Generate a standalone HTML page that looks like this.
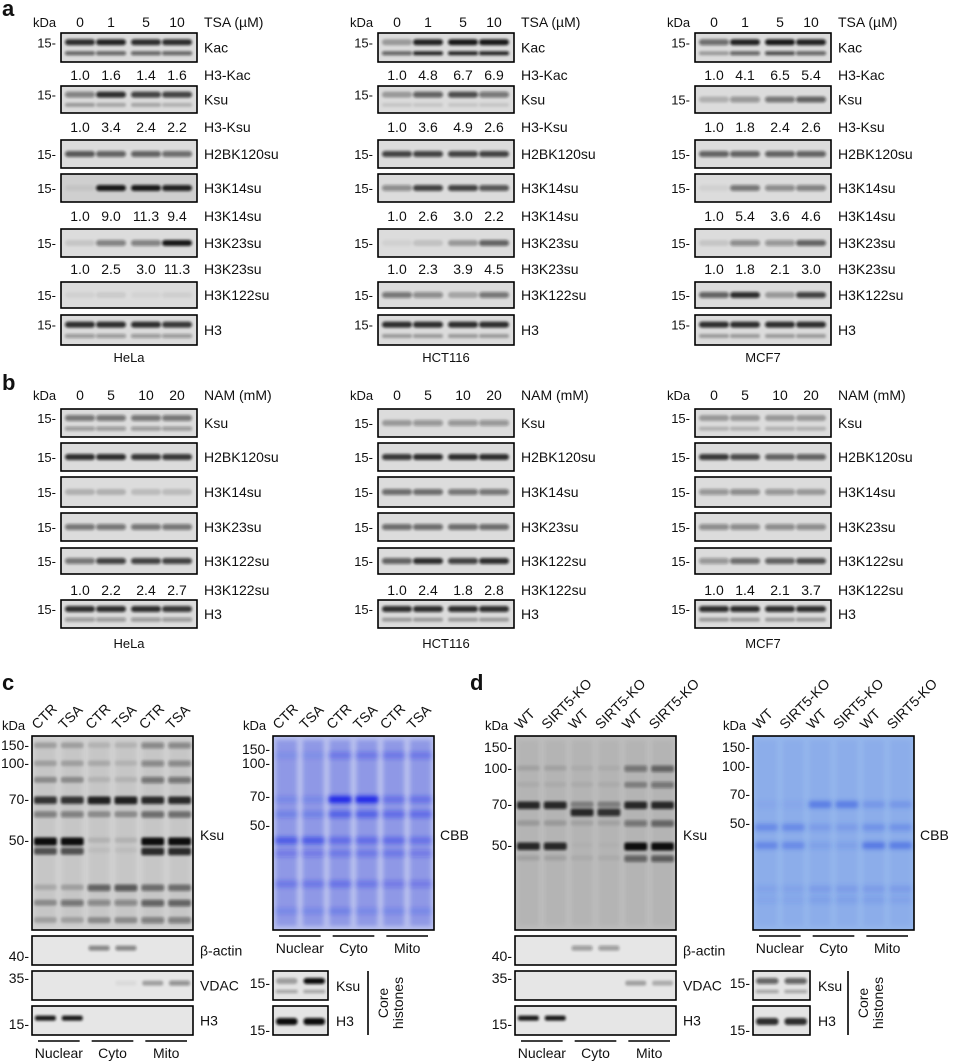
<!DOCTYPE html>
<html><head><meta charset="utf-8">
<style>
html,body{margin:0;padding:0;background:#fff;}
svg{display:block;font-family:"Liberation Sans",Arial,sans-serif;}
text{fill:#111;}
</style></head>
<body>
<svg id="fig" width="953" height="1064" viewBox="0 0 953 1064" xmlns="http://www.w3.org/2000/svg">
<defs>
<filter id="bl" x="-20%" y="-100%" width="140%" height="300%"><feGaussianBlur stdDeviation="1.3"/></filter>
<filter id="bl2" x="-20%" y="-100%" width="140%" height="300%"><feGaussianBlur stdDeviation="2.2"/></filter>
</defs>
</svg>
<script>
// ---------- data ----------
const aLabels=['Kac','Ksu','H2BK120su','H3K14su','H3K23su','H3K122su','H3'];
const bLabels=['Ksu','H2BK120su','H3K14su','H3K23su','H3K122su','H3'];
const cellLines=['HeLa','HCT116','MCF7'];
const aDoses=['0','1','5','10'];
const bDoses=['0','5','10','20'];
const aQuantLabels=['H3-Kac','H3-Ksu','H3K14su','H3K23su'];
const aQuantHeLa=[[1.0,1.6,1.4,1.6],[1.0,3.4,2.4,2.2],[1.0,9.0,11.3,9.4],[1.0,2.5,3.0,11.3]];
const aQuantHCT=[[1.0,4.8,6.7,6.9],[1.0,3.6,4.9,2.6],[1.0,2.6,3.0,2.2],[1.0,2.3,3.9,4.5]];
const aQuantMCF=[[1.0,4.1,6.5,5.4],[1.0,1.8,2.4,2.6],[1.0,5.4,3.6,4.6],[1.0,1.8,2.1,3.0]];
const bQuantHeLa=[1.0,2.2,2.4,2.7];
const bQuantHCT=[1.0,2.4,1.8,2.8];
const bQuantMCF=[1.0,1.4,2.1,3.7];
const aBandsHeLa=[[[.85,.9,.85,.85],[.6,.6,.6,.6]],[[.45,.85,.75,.75],[.3,.25,.25,.2]],[[.65,.6,.6,.55],null],[[.05,.95,.95,.9],null],[[.1,.45,.45,.95],null],[[.05,.08,.04,.06],null],[[.85,.85,.85,.8],[.35,.35,.35,.35]]];
const aBandsHCT=[[[.3,.9,.95,.95],[.6,.9,.9,.9]],[[.3,.6,.7,.5],[.1,.1,.1,.1]],[[.75,.75,.75,.75],null],[[.4,.75,.75,.65],null],[[.05,.12,.3,.6],null],[[.5,.4,.25,.5],null],[[.85,.85,.85,.85],[.3,.3,.3,.3]]];
const aBandsMCF=[[[.55,.9,.95,.9],[.3,.6,.7,.6]],[[.2,.35,.5,.6],null],[[.6,.6,.6,.6],null],[[.05,.5,.4,.45],null],[[.1,.4,.35,.6],null],[[.6,.85,.3,.75],null],[[.85,.85,.85,.85],[.3,.3,.3,.3]]];
const bBandsHeLa=[[[.5,.5,.5,.5],[.35,.35,.35,.35]],[[.85,.85,.8,.8],null],[[.2,.2,.15,.15],null],[[.5,.5,.5,.5],null],[[.5,.75,.75,.75],null],[[.85,.85,.85,.8],[.35,.35,.35,.35]]];
const bBandsHCT=[[[.3,.35,.35,.35],null],[[.8,.85,.85,.85],null],[[.55,.55,.5,.5],null],[[.55,.55,.55,.55],null],[[.6,.85,.75,.85],null],[[.85,.85,.85,.85],[.3,.3,.3,.3]]];
const bBandsMCF=[[[.3,.3,.3,.3],[.2,.2,.2,.2]],[[.8,.7,.6,.6],null],[[.35,.4,.35,.3],null],[[.4,.4,.4,.4],null],[[.35,.55,.6,.7],null],[[.85,.85,.85,.85],[.3,.3,.3,.3]]];
const cLanes=['CTR','TSA','CTR','TSA','CTR','TSA'];
const dLanes=['WT','SIRT5-KO','WT','SIRT5-KO','WT','SIRT5-KO'];
const fractions=['Nuclear','Cyto','Mito'];
const markersBig=['150','100','70','50'];
const cKsuBandKDa=[150,100,85,70,62,50,46,34,30,26];
const cKsuBandVals=[[.2,.2,.1,.1,.35,.35],[.2,.2,.15,.1,.35,.35],[.3,.3,.1,.1,.45,.45],[.8,.8,.9,.9,.85,.85],[.4,.4,.3,.3,.5,.5],[1,1,.1,.1,1,1],[.65,.65,.05,.05,.85,.85],[.15,.2,.55,.6,.5,.5],[.3,.45,.35,.35,.55,.55],[.2,.2,.3,.3,.4,.4]];
const dKsuBandKDa=[100,85,70,66,60,50,45];
const dKsuBandVals=[[.1,.1,.05,.05,.4,.5],[.05,.05,.05,.05,.3,.4],[.85,.85,.3,.3,.85,.85],[0,0,.85,.8,0,0],[.15,.15,.1,.1,.4,.5],[.85,.85,.02,.02,1,1],[.1,.1,.05,.05,.5,.55]];
const cGelBandKDa=[120,70,62,50,45,35,28];
const cGelBandVals=[[.1,.1,.3,.3,.3,.3],[.15,.15,1,1,.35,.35],[.2,.2,.5,.5,.4,.4],[.55,.55,.4,.4,.4,.35],[.25,.25,.3,.3,.3,.25],[.3,.3,.35,.3,.25,.25],[.15,.15,.2,.15,.15,.15]];
const dGelBandKDa=[70,58,50,35,32];
const dGelBandVals=[[.08,.08,.55,.55,.25,.25],[.4,.4,.2,.2,.3,.3],[.45,.4,.15,.15,.6,.55],[.12,.12,.2,.2,.2,.2],[.1,.1,.15,.15,.15,.12]];
const cActin=[0,0,.45,.45,0,0], cVDAC=[0,0,0,.05,.3,.4], cH3=[.95,.95,0,0,0,0];
const dActin=[0,0,.35,.35,0,0], dVDAC=[0,0,0,0,.3,.25], dH3=[.95,.95,0,0,0,0];
const cCoreKsu=[.3,1], cCoreH3=[1,1];
const dCoreKsu=[.6,.6], dCoreH3=[.85,.85];

// ---------- helpers ----------
const NS='http://www.w3.org/2000/svg';
const svg=document.getElementById('fig');
function el(tag,attrs,parent){const e=document.createElementNS(NS,tag);for(const k in attrs)e.setAttribute(k,attrs[k]);(parent||svg).appendChild(e);return e;}
function txt(x,y,s,size,anchor,parent,extra){const t=el('text',Object.assign({x:x,y:y,'font-size':size||13,'text-anchor':anchor||'start'},extra||{}),parent);t.textContent=s;return t;}
function fmt(v){return v.toFixed(1);}

function smallCol(ox,rowsY,rowsH,labels,bands,quantRows,quantY,quantLabels,headY,doses,agent,lineY,cellName,prefix){
  const g=el('g',{});
  
  
  const W=136, laneC=[19,50,85,116];
  const t=txt(ox-28,headY,'kDa',13,'start',g);
  
  
  doses.forEach((d,i)=>{const tt=txt(ox+laneC[i],headY,d,14,'middle',g);
    
    });
  const ag=txt(ox+W+7,headY,agent,14,'start',g);
  
  
  labels.forEach((lab,r)=>{
    const y=rowsY[r],h=rowsH[r];
    const bg=el('rect',{x:ox,y:y,width:W,height:h,fill:lab==='H3K14su'&&prefix==='a'&&cellName==='HeLa'?'#cfcfcf':'#dcdcdc'},g);
    
    
    const bs=bands[r];
    const upY=bs[1]?y+h*0.32:y+h*0.5;
    bs[0].forEach((v,i)=>{const b=el('rect',{x:ox+laneC[i]-15,y:upY-3,width:30,height:6,rx:3,fill:'#111','fill-opacity':v,filter:'url(#bl)'},g);
      
      });
    if(bs[1]) bs[1].forEach((v,i)=>{const b=el('rect',{x:ox+laneC[i]-15,y:y+h*0.7-2,width:30,height:4,rx:2,fill:'#111','fill-opacity':v,filter:'url(#bl)'},g);
      
      });
    el('rect',{x:ox,y:y,width:W,height:h,fill:'none',stroke:'#000','stroke-width':1.6},g);
    const m=txt(ox-5,upY+5,'15-',13,'end',g);
    
    
    const l=txt(ox+W+7,y+h/2+5,lab,14,'start',g);
    
    
  });
  quantRows.forEach((vals,q)=>{
    vals.forEach((v,i)=>{const n=txt(ox+laneC[i],quantY[q]+5,fmt(v),14,'middle',g);
      
      });
    const ql=txt(ox+W+7,quantY[q]+5,quantLabels[q],14,'start',g);
    
    
  });
  const cl=txt(ox+W/2,lineY,cellName,13,'middle',g);
  
  
}
const colX=[61,378,695];
const aRowsY=[33,86,140,174,229,282,315], aRowsH=[29,27,28,28,28,26,30];
const aQY=[75,127,216,269];
const aQ=[aQuantHeLa,aQuantHCT,aQuantMCF], aB=[aBandsHeLa,aBandsHCT,aBandsMCF];
cellLines.forEach((c,i)=>smallCol(colX[i],aRowsY,aRowsH,aLabels,aB[i],aQ[i],aQY,aQuantLabels,27,aDoses,'TSA (µM)',362,c,'a'));
const bRowsY=[409,443,477,513,548,600], bRowsH=[28,28,30,28,26,28];
const bQ=[bQuantHeLa,bQuantHCT,bQuantMCF], bB=[bBandsHeLa,bBandsHCT,bBandsMCF];
cellLines.forEach((c,i)=>smallCol(colX[i],bRowsY,bRowsH,bLabels,bB[i],[bQ[i]],[590],['H3K122su'],400,bDoses,'NAM (mM)',648,c,'b'));

function bigPanel(P){
  const g=el('g',{});
  
  
  const top=736,bot=930,W=161,lw=W/6;
  const kToY=k=>{
    const ks=[150,100,70,50],ys=P.mY;
    if(k>=150)return ys[0];
    for(let i=0;i<3;i++){if(k<=ks[i]&&k>=ks[i+1]){const f=(Math.log(ks[i])-Math.log(k))/(Math.log(ks[i])-Math.log(ks[i+1]));return ys[i]+f*(ys[i+1]-ys[i]);}}
    const f=(Math.log(50)-Math.log(k))/(Math.log(70)-Math.log(50));return ys[3]+f*(ys[3]-ys[2]);
  };
  [P.bx,P.gx].forEach((ox,j)=>{
    P.lanes.forEach((s,i)=>{const t=txt(0,0,s,14,'start',g,{transform:`translate(${ox+lw*(i+0.5)-8},${top-6}) rotate(-45)`});
      
      });
    const k=txt(ox-30,top-6,'kDa',13,'start',g);
    
    
  });
  const bb=el('rect',{x:P.bx,y:top,width:W,height:bot-top,fill:P.blotBg},g);
  
  
  for(let i=0;i<6;i++)el('rect',{x:P.bx+lw*i+3,y:top+4,width:lw-6,height:bot-top-8,fill:'#777','fill-opacity':0.12,filter:'url(#bl2)'},g);
  P.kBands.forEach((k,j)=>P.kVals[j].forEach((v,i)=>{const b=el('rect',{x:P.bx+lw*i+2,y:kToY(k)-2.5,width:lw-4,height:5+v*3,rx:2,fill:'#111','fill-opacity':v,filter:'url(#bl)'},g);
    
    }));
  el('rect',{x:P.bx,y:top,width:W,height:bot-top,fill:'none',stroke:'#000','stroke-width':1.6},g);
  markersBig.forEach((m,i)=>{const t=txt(P.bx-3,P.mY[i]+5,m+'-',14,'end',g);
    
    });
  const kl=txt(P.bx+W+7,840,'Ksu',14,'start',g);
  
  
  const small=[['β-actin',936,29,P.actin,'40-',956],['VDAC',971,29,P.vdac,'35-',978],['H3',1006,29,P.h3,'15-',1024]];
  small.forEach(([lab,y,h,vals,mk,my])=>{
    const r=el('rect',{x:P.bx,y:y,width:W,height:h,fill:'#e6e6e6'},g);
    
    
    vals.forEach((v,i)=>el('rect',{x:P.bx+lw*i+3,y:y+h*0.4-2,width:lw-6,height:5,rx:2,fill:'#111','fill-opacity':v,filter:'url(#bl)'},g));
    el('rect',{x:P.bx,y:y,width:W,height:h,fill:'none',stroke:'#000','stroke-width':1.6},g);
    const t=txt(P.bx-3,my+5,mk,14,'end',g);
    
    
    const l=txt(P.bx+W+7,y+h/2+5,lab,14,'start',g);
    
    
  });
  const under=(ox,y,ty)=>fractions.forEach((f,i)=>{
    el('line',{x1:ox+lw*2*i+6,x2:ox+lw*2*(i+1)-6,y1:y,y2:y,stroke:'#000','stroke-width':1.6},g);
    const t=txt(ox+lw*(2*i+1),ty,f,14,'middle',g);
    
    
  });
  under(P.bx,1041,1058);
  const gl=el('rect',{x:P.gx,y:top,width:W,height:bot-top,fill:P.gelBg},g);
  
  
  for(let i=0;i<6;i++)el('rect',{x:P.gx+lw*i+3,y:top+4,width:lw-6,height:bot-top-8,fill:P.gelLane,'fill-opacity':P.laneOp,filter:'url(#bl2)'},g);
  P.gBands.forEach((k,j)=>P.gVals[j].forEach((v,i)=>{const b=el('rect',{x:P.gx+lw*i+2,y:kToY(k)-3,width:lw-4,height:7,rx:2,fill:P.gelBand,'fill-opacity':v,filter:'url(#bl2)'},g);
    
    }));
  el('rect',{x:P.gx,y:top,width:W,height:bot-top,fill:'none',stroke:'#000','stroke-width':1.6},g);
  markersBig.forEach((m,i)=>{const t=txt(P.gx-3,P.gmY[i]+5,m+'-',14,'end',g);
    
    });
  const cb=txt(P.gx+W+6,840,'CBB',14,'start',g);
  
  
  under(P.gx,936,953);
  const sw=P.coreW,slw=sw/2;
  [['Ksu',971,P.coreKsu],['H3',1006,P.coreH3]].forEach(([lab,y,vals])=>{
    const r=el('rect',{x:P.gx,y:y,width:sw,height:29,fill:'#e4e4e4'},g);
    
    
    vals.forEach((v,i)=>el('rect',{x:P.gx+slw*i+3,y:y+(lab==='H3'?12:7),width:slw-6,height:lab==='H3'?7:6,rx:3,fill:'#111','fill-opacity':v,filter:'url(#bl)'},g));
    if(lab==='Ksu')vals.forEach((v,i)=>el('rect',{x:P.gx+slw*i+3,y:y+19,width:slw-6,height:3,fill:'#111','fill-opacity':.35,filter:'url(#bl)'},g));
    el('rect',{x:P.gx,y:y,width:sw,height:29,fill:'none',stroke:'#000','stroke-width':1.6},g);
    const t=txt(P.gx-3,y+(lab==='H3'?29:17),'15-',14,'end',g);
    
    
    const l=txt(P.gx+sw+8,y+20,lab,14,'start',g);
    
    
  });
  el('line',{x1:P.vx,x2:P.vx,y1:971,y2:1035,stroke:'#000','stroke-width':1.6},g);
  const ch=txt(0,0,'Core',14,'middle',g,{transform:`translate(${P.vx+20},1003) rotate(-90)`});
  
  
  const ch2=txt(0,0,'histones',14,'middle',g,{transform:`translate(${P.vx+35},1003) rotate(-90)`});
  
  
}
bigPanel({id:'c',bx:32,gx:273,lanes:cLanes,mY:[745,763,799,840],gmY:[749,763,796,825],blotBg:'#d2d2d2',gelBg:'#b9c0ee',gelLane:'#5a68dc',laneOp:0.45,gelBand:'#1a28e8',
  kBands:cKsuBandKDa,kVals:cKsuBandVals,gBands:cGelBandKDa,gVals:cGelBandVals,actin:cActin,vdac:cVDAC,h3:cH3,coreKsu:cCoreKsu,coreH3:cCoreH3,coreW:55,vx:368});
bigPanel({id:'d',bx:515,gx:753,lanes:dLanes,mY:[747,768,804,845],gmY:[747,766,794,823],blotBg:'#bdbdbd',gelBg:'#94b6ec',gelLane:'#7a98e4',laneOp:0.3,gelBand:'#3056e0',
  kBands:dKsuBandKDa,kVals:dKsuBandVals,gBands:dGelBandKDa,gVals:dGelBandVals,actin:dActin,vdac:dVDAC,h3:dH3,coreKsu:dCoreKsu,coreH3:dCoreH3,coreW:57,vx:848});

[['a',2,16],['b',2,390],['c',2,690],['d',470,690]].forEach(([s,x,y])=>{
  const t=txt(x,y,s,22,'start',svg,{'font-weight':'bold'});
  
  
});
</script>
</body></html>
